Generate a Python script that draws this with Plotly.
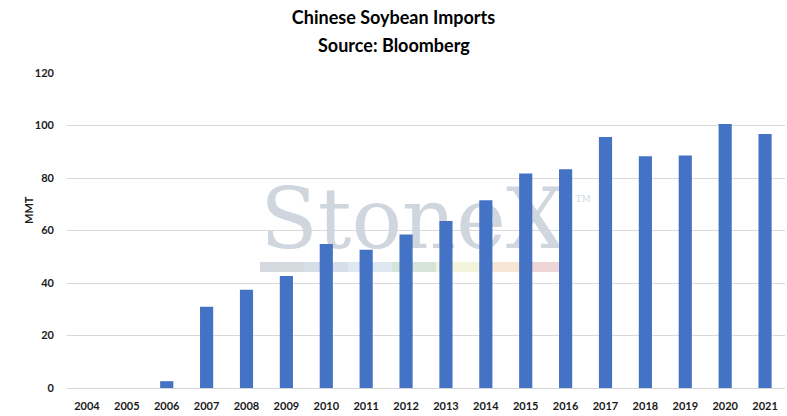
import plotly.graph_objects as go

# data (million metric tons)
years = [str(y) for y in range(2004, 2022)]
imports_mmt = [0.0, 0.0, 2.6, 31.0, 37.4, 42.7, 54.9, 52.7, 58.5,
               63.6, 71.5, 81.7, 83.3, 95.6, 88.3, 88.6, 100.6, 96.8]
y_ticks = [0, 20, 40, 60, 80, 100, 120]

BAR_BLUE = "#4472C4"
GRID_GREY = "#d9d9d9"
WATERMARK_GREY = "#cfd6de"
STRIPE_COLOURS = ["#d4d9e0", "#d6dee8", "#dde8f2", "#d7e4d9",
                  "#f4f4dc", "#f8e6d4", "#f0d5d7"]

W, H = 787, 416
M_L, M_R, M_T, M_B = 67, 2, 73, 28


def px_to_paper(px, py):
    # pixel position in the window -> paper coords of the plot area
    return ((px - M_L) / (W - M_L - M_R), (H - M_B - py) / (H - M_T - M_B))


fig = go.Figure()

# watermark sits on the main (hidden) axes so the bars on the overlay draw on top
wm_x0, wm_y0 = px_to_paper(413, 227)
tm_x0, tm_y0 = px_to_paper(583, 200)
fig.add_trace(
    go.Scatter(
        x=[wm_x0, tm_x0],
        y=[wm_y0, tm_y0],
        mode="text",
        text=["StoneX", "TM"],
        textposition="middle center",
        textfont=dict(family="DejaVu Serif", size=[84, 9], color=WATERMARK_GREY),
        hoverinfo="skip",
        xaxis="x",
        yaxis="y",
    )
)

fig.add_trace(
    go.Bar(
        x=years,
        y=imports_mmt,
        marker=dict(color=BAR_BLUE, line=dict(width=0)),
        xaxis="x2",
        yaxis="y2",
    )
)

# coloured stripe under the watermark
seg_w = 44
for i, col in enumerate(STRIPE_COLOURS):
    x0, y0 = px_to_paper(260 + i * seg_w, 272)
    x1, y1 = px_to_paper(260 + (i + 1) * seg_w, 262)
    fig.add_shape(
        type="rect", xref="paper", yref="paper",
        x0=x0, x1=x1, y0=y0, y1=y1,
        fillcolor=col, line=dict(width=0), layer="below",
    )

tick_font = dict(family="Lato", size=11, color="#1a1a1a", weight=700)
sub_x, sub_y = px_to_paper(393.5, 45)
mmt_x, mmt_y = px_to_paper(28, 210)

fig.update_layout(
    width=W,
    height=H,
    margin=dict(l=M_L, r=M_R, t=M_T, b=M_B, pad=0),
    paper_bgcolor="white",
    plot_bgcolor="white",
    showlegend=False,
    bargap=0.67,
    title=dict(
        text="<b>Chinese Soybean Imports</b>",
        x=0.5, xanchor="center", y=0.957, yanchor="middle",
        font=dict(family="Lato", size=18, color="black"),
    ),
    xaxis=dict(visible=False, range=[0, 1], fixedrange=True),
    yaxis=dict(visible=False, range=[0, 1], fixedrange=True),
    xaxis2=dict(
        overlaying="x",
        type="category",
        showgrid=False,
        showline=True,
        linecolor=GRID_GREY,
        linewidth=1,
        ticks="",
        tickfont=tick_font,
        ticklabelstandoff=8,
    ),
    yaxis2=dict(
        overlaying="y",
        range=[0, 120],
        tickvals=y_ticks,
        showgrid=True,
        gridcolor=GRID_GREY,
        gridwidth=1,
        zeroline=False,
        showline=False,
        ticks="",
        tickfont=tick_font,
        ticklabelstandoff=12,
    ),
    annotations=[
        dict(
            text="<b>Source: Bloomberg</b>",
            xref="paper", yref="paper", x=sub_x, y=sub_y,
            xanchor="center", yanchor="middle", showarrow=False,
            font=dict(family="Lato", size=18, color="black"),
        ),
        dict(
            text="<b>MMT</b>",
            xref="paper", yref="paper", x=mmt_x, y=mmt_y,
            xanchor="center", yanchor="middle", showarrow=False, textangle=-90,
            font=dict(family="Lato", size=11, color="#1a1a1a"),
        ),
    ],
)

# drop the browser's default body margin so the figure sits at the window corner
fig.write_html(
    "out.html",
    config={"displayModeBar": False},
    post_script="document.body.style.margin='0';",
)
